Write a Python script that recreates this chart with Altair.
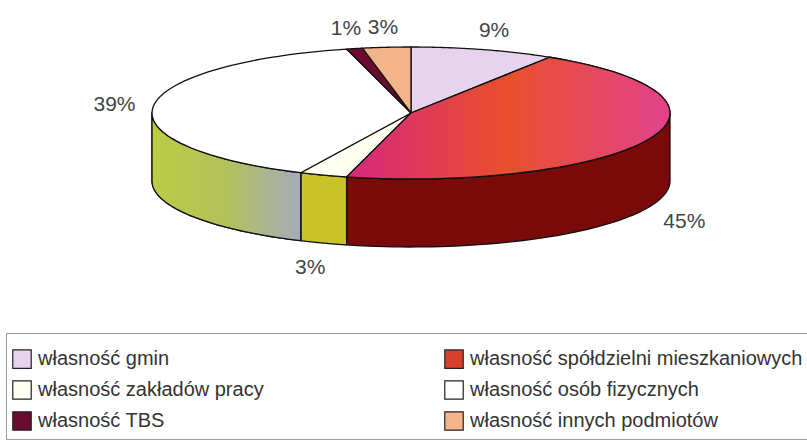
import altair as alt
import pandas as pd

categories = [
    "własność gmin",
    "własność spółdzielni mieszkaniowych",
    "własność zakładów pracy",
    "własność osób fizycznych",
    "własność TBS",
    "własność innych podmiotów",
]
values = [9, 45, 3, 39, 1, 3]

top_colors = ["#e6d3ee", "#d8402c", "#fffff2", "#ffffff", "#6c0a32", "#f4b48a"]
side_colors = ["#c9b8d8", "#7a0a0a", "#cac22a", "#b4c44a", "#4a0620", "#d8906a"]

# legend is filled column by column, so list the categories in that order
legend_order = [0, 2, 4, 1, 3, 5]
legend_domain = [categories[i] for i in legend_order]
legend_range = [top_colors[i] for i in legend_order]

df = pd.DataFrame({"cat": categories, "value": values, "order": list(range(len(categories)))})

N = 60
D = 68 / 66  # depth of the pie wall in units of the vertical semi-axis
FONT = "Liberation Sans"

xs = alt.Scale(domain=[-1.587, 1.529], nice=False, zero=False)
ys = alt.Scale(domain=[-5.076, 1.712], nice=False, zero=False)

base = (
    alt.Chart(df)
    .transform_window(cum="sum(value)", sort=[alt.SortField("order")], frame=[None, 0])
    .transform_joinaggregate(total="sum(value)")
    .transform_calculate(a0="2*PI*(datum.cum - datum.value)/datum.total")
    .transform_calculate(a1="2*PI*datum.cum/datum.total")
)

# top faces (elliptical wedges)
top_pts = (
    base.transform_calculate(pts=f"sequence(0, {N + 3})")
    .transform_flatten(["pts"], as_=["i"])
    .transform_calculate(ang=f"datum.a0 + (datum.a1 - datum.a0) * clamp((datum.i - 1) / {N}, 0, 1)")
    .transform_calculate(r=f"(datum.i == 0 || datum.i == {N + 2}) ? 0 : 1")
    .transform_calculate(px="datum.r * sin(datum.ang)")
    .transform_calculate(py="datum.r * cos(datum.ang)")
)

# side walls (front half only)
side_pts = (
    base.transform_calculate(s0="max(datum.a0, PI/2)")
    .transform_calculate(s1="min(datum.a1, 3*PI/2)")
    .transform_filter("datum.s1 > datum.s0")
    .transform_calculate(pts=f"sequence(0, {2 * N + 3})")
    .transform_flatten(["pts"], as_=["i"])
    .transform_calculate(
        ang=(
            f"datum.i <= {N} ? datum.s0 + (datum.s1 - datum.s0) * datum.i / {N} : "
            f"(datum.i <= {2 * N + 1} ? datum.s1 - (datum.s1 - datum.s0) * (datum.i - {N + 1}) / {N} : datum.s0)"
        )
    )
    .transform_calculate(low=f"(datum.i > {N} && datum.i <= {2 * N + 1}) ? 1 : 0")
    .transform_calculate(px="sin(datum.ang)")
    .transform_calculate(py=f"cos(datum.ang) - datum.low * {D}")
)

enc = dict(
    x=alt.X("px:Q", scale=xs, axis=None),
    y=alt.Y("py:Q", scale=ys, axis=None),
    order=alt.Order("i:Q"),
    detail="cat:N",
)

side = side_pts.mark_line(stroke="#111", strokeWidth=1.3, strokeJoin="round").encode(
    fill=alt.Fill("cat:N", scale=alt.Scale(domain=categories, range=side_colors), legend=None),
    **enc,
)

side_grad = (
    side_pts.transform_filter(alt.datum.cat == categories[3])
    .mark_line(
        stroke="#111",
        strokeWidth=1.3,
        strokeJoin="round",
        fill=alt.Gradient(
            gradient="linear",
            stops=[
                alt.GradientStop(color="#bccb44", offset=0),
                alt.GradientStop(color="#b2c25a", offset=0.5),
                alt.GradientStop(color="#a6aabc", offset=1),
            ],
            x1=0, x2=1, y1=0, y2=0,
        ),
    )
    .encode(**enc)
)

top = top_pts.mark_line(stroke="#111", strokeWidth=1.3, strokeJoin="round").encode(
    fill=alt.Fill(
        "cat:N",
        scale=alt.Scale(domain=legend_domain, range=legend_range),
        legend=alt.Legend(
            title=" ",
            titleFontSize=10,
            titlePadding=0,
            orient="none",
            legendX=6,
            legendY=333,
            columns=2,
            columnPadding=178,
            rowPadding=7,
            symbolType="square",
            symbolSize=340,
            symbolStrokeColor="#222",
            symbolStrokeWidth=1.2,
            labelFont=FONT,
            labelFontSize=20,
            labelColor="#333",
            labelOffset=6,
            labelLimit=500,
            padding=6,
            strokeColor="#9a9a9a",
            fillColor="#ffffff",
        ),
    ),
    **enc,
)

top_grad = (
    top_pts.transform_filter(alt.datum.cat == categories[1])
    .mark_line(
        stroke="#111",
        strokeWidth=1.3,
        strokeJoin="round",
        fill=alt.Gradient(
            gradient="linear",
            stops=[
                alt.GradientStop(color="#d6287e", offset=0),
                alt.GradientStop(color="#e8502c", offset=0.5),
                alt.GradientStop(color="#e2428c", offset=1),
            ],
            x1=0, x2=1, y1=0, y2=0,
        ),
    )
    .encode(**enc)
)

labels = (
    base.transform_calculate(mid="(datum.a0 + datum.a1) / 2")
    .transform_calculate(lx="1.15 * sin(datum.mid)")
    .transform_calculate(ly=f"1.3 * cos(datum.mid) - (cos(datum.mid) < 0 ? {D} + 0.1 : 0)")
    .transform_calculate(txt="datum.value + '%'")
    .mark_text(font=FONT, fontSize=21, color="#444")
    .encode(
        x=alt.X("lx:Q", scale=xs, axis=None),
        y=alt.Y("ly:Q", scale=ys, axis=None),
        text="txt:N",
    )
)

chart = (
    alt.layer(side, side_grad, top, top_grad, labels)
    .resolve_scale(fill="independent")
    .properties(width=807, height=448, autosize=alt.AutoSizeParams(type="none"), padding=0, background="white")
    .configure_view(stroke=None)
)

chart.save("out.html", embed_options={"renderer": "svg", "actions": False})
